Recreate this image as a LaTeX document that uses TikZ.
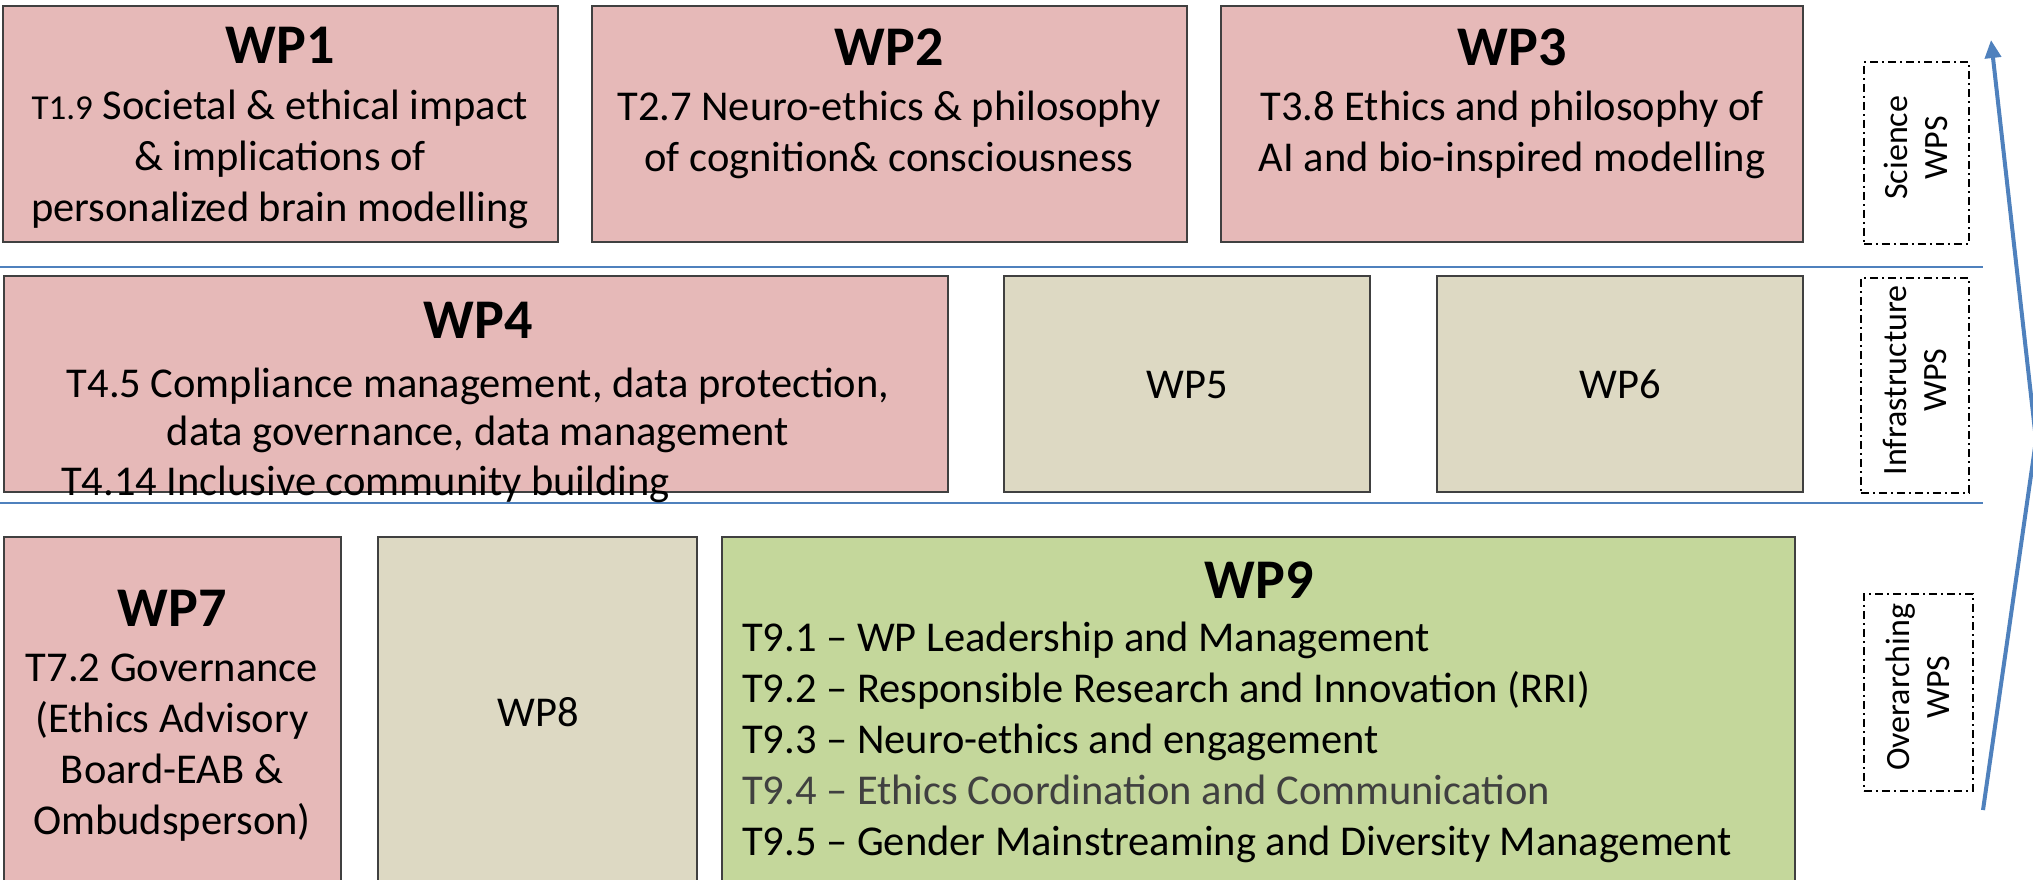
\documentclass[tikz,border=0pt]{standalone}
\usepackage{fontspec}
\setmainfont{Carlito}
\usetikzlibrary{arrows.meta}
\definecolor{pinkc}{HTML}{E6B9B8}
\definecolor{beigec}{HTML}{DDD9C3}
\definecolor{greenc}{HTML}{C4D79B}
\definecolor{bluec}{HTML}{4F81BD}
\definecolor{edgec}{HTML}{404040}
\definecolor{grayt}{HTML}{404040}
\tikzset{
  wpbox/.style={draw=edgec, line width=2pt, anchor=north west, inner sep=0pt, outer sep=0pt},
  wptitle/.style={font=\fontsize{56}{62}\selectfont\bfseries, anchor=base, inner sep=0pt},
  wpbody/.style={font=\fontsize{42.5}{52}\selectfont, anchor=base, inner sep=0pt},
  wpleft/.style={font=\fontsize{42.5}{52}\selectfont, anchor=base west, inner sep=0pt},
  sidebox/.style={draw=black, line width=1.5pt, dash pattern=on 8pt off 4pt on 2pt off 4pt, anchor=north west, inner sep=0pt},
  sidetext/.style={font=\fontsize{34}{40}\selectfont, align=center, rotate=90, inner sep=0pt},
  sepline/.style={draw=bluec, line width=2.5pt},
  updown/.style={draw=bluec, line width=4pt, -{Triangle[length=18pt,width=16pt]}}
}
\begin{document}
\begin{tikzpicture}[x=1pt,y=-1pt]
\useasboundingbox (0,0) rectangle (2033,879);
% top row
\node[wpbox, fill=pinkc, minimum width=555pt, minimum height=236pt] (wp1) at (3,6) {};
\node[wpbox, fill=pinkc, minimum width=595pt, minimum height=236pt] (wp2) at (592,6) {};
\node[wpbox, fill=pinkc, minimum width=582pt, minimum height=236pt] (wp3) at (1221,6) {};
\node[wptitle] (wp1t) at (280,63) {WP1};
\node[wpbody] (wp1a) at (280,119) {{\fontsize{35}{40}\selectfont T1.9} Societal \& ethical impact};
\node[wpbody] (wp1b) at (280,170) {\& implications of};
\node[wpbody] (wp1c) at (280,221) {personalized brain modelling};
\node[wptitle] (wp2t) at (889,65) {WP2};
\node[wpbody] (wp2a) at (889,120) {T2.7 Neuro-ethics \& philosophy};
\node[wpbody] (wp2b) at (889,171) {of cognition\& consciousness};
\node[wptitle] (wp3t) at (1512,65) {WP3};
\node[wpbody] (wp3a) at (1512,120) {T3.8 Ethics and philosophy of};
\node[wpbody] (wp3b) at (1512,171) {AI and bio-inspired modelling};
% separators
\coordinate (s1a) at (0,267);
\coordinate (s1b) at (1983,267);
\coordinate (s2a) at (0,503);
\coordinate (s2b) at (1983,503);
\draw[sepline] (s1a) -- (s1b);
\draw[sepline] (s2a) -- (s2b);
% middle row
\node[wpbox, fill=pinkc, minimum width=944pt, minimum height=216pt] (wp4) at (4,276) {};
\node[wpbox, fill=beigec, minimum width=366pt, minimum height=216pt] (wp5) at (1004,276) {};
\node[wpbox, fill=beigec, minimum width=366pt, minimum height=216pt] (wp6) at (1437,276) {};
\node[wptitle] (wp4t) at (478,338) {WP4};
\node[wpbody] (wp4a) at (478,397) {T4.5 Compliance management, data protection,};
\node[wpbody] (wp4b) at (478,445) {data governance, data management};
\node[wpleft] (wp4c) at (61,495) {T4.14 Inclusive community building};
\node[wpbody] (wp5t) at (1187,398) {WP5};
\node[wpbody] (wp6t) at (1620,398) {WP6};
% bottom row
\node[wpbox, fill=pinkc, minimum width=337pt, minimum height=360pt] (wp7) at (4,537) {};
\node[wpbox, fill=beigec, minimum width=319pt, minimum height=360pt] (wp8) at (378,537) {};
\node[wpbox, fill=greenc, minimum width=1073pt, minimum height=360pt] (wp9) at (722,537) {};
\node[wptitle] (wp7t) at (172,626) {WP7};
\node[wpbody] (wp7a) at (172,681) {T7.2 Governance};
\node[wpbody] (wp7b) at (172,732) {(Ethics Advisory};
\node[wpbody] (wp7c) at (172,783) {Board-EAB \&};
\node[wpbody] (wp7d) at (172,834) {Ombudsperson)};
\node[wpbody] (wp8t) at (538,726) {WP8};
\node[wptitle] (wp9t) at (1259,598) {WP9};
\node[wpleft] (wp9a) at (742,651) {T9.1 -- WP Leadership and Management};
\node[wpleft] (wp9b) at (742,702) {T9.2 -- Responsible Research and Innovation (RRI)};
\node[wpleft] (wp9c) at (742,753) {T9.3 -- Neuro-ethics and engagement};
\node[wpleft, text=grayt] (wp9d) at (742,804) {T9.4 -- Ethics Coordination and Communication};
\node[wpleft] (wp9e) at (742,855) {T9.5 -- Gender Mainstreaming and Diversity Management};
% side labels
\node[sidebox, minimum width=105pt, minimum height=182pt] (sci) at (1863,61) {};
\node[sidetext, xshift=5pt] (scit) at (sci.center) {Science\\WPS};
\node[sidebox, minimum width=108pt, minimum height=215pt] (inf) at (1860,277) {};
\node[sidetext, xshift=5pt] (inft) at (inf.center) {Infrastructure\\WPS};
\node[sidebox, minimum width=109pt, minimum height=197pt] (ove) at (1863,593) {};
\node[sidetext, xshift=5pt] (ovet) at (ove.center) {Overarching\\WPS};
% arrow
\coordinate (ab) at (1983,810);
\coordinate (am) at (2036,440);
\coordinate (at) at (1991,40);
\draw[updown] (ab) -- (am) -- (at);
\end{tikzpicture}
\end{document}
